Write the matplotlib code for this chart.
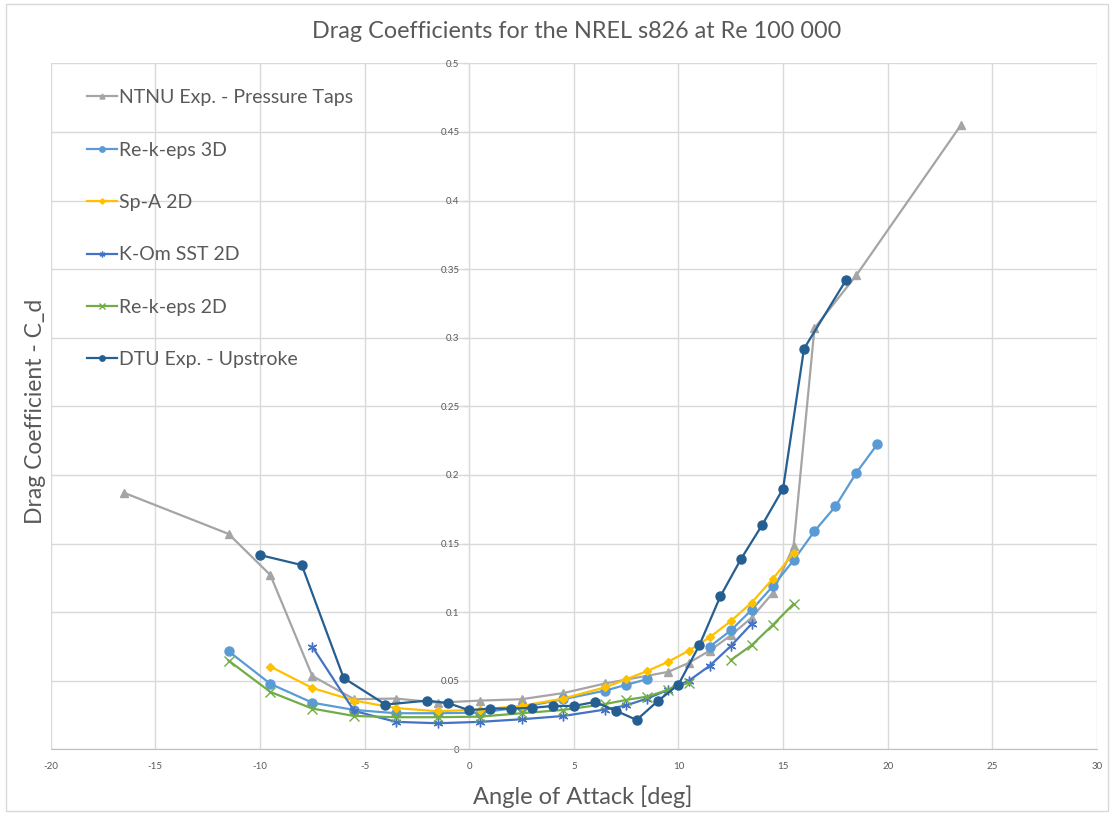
import numpy as np
import matplotlib
matplotlib.use("Agg")
import matplotlib.pyplot as plt
from matplotlib.ticker import FuncFormatter
from matplotlib.patches import Rectangle

plt.rcParams['font.family'] = ['Lato', 'DejaVu Sans']
plt.rcParams['axes.unicode_minus'] = False

TEXT = '#595959'
GRID = '#D9D9D9'

title = "Drag Coefficients for the NREL s826 at Re 100 000"
xlabel = "Angle of Attack [deg]"
ylabel = "Drag Coefficient - C_d"

# NTNU experiment, pressure taps
ntnu_aoa = [-16.5, -11.5, -9.5, -7.5, -5.5, -3.5, -1.5, 0.5, 2.5, 4.5, 6.5,
            9.5, 10.5, 11.5, 12.5, 13.5, 14.5, 15.5, 16.5, 18.5, 23.5]
ntnu_cd = [0.187, 0.157, 0.127, 0.0535, 0.0365, 0.037, 0.034, 0.0355, 0.0365,
           0.041, 0.048, 0.0564, 0.063, 0.072, 0.083, 0.096, 0.1138, 0.148,
           0.307, 0.3455, 0.455]

# Realizable k-epsilon, 3D
rke3d_aoa = [-11.5, -9.5, -7.5, -5.5, -3.5, -1.5, 0.5, 2.5, 4.5, 6.5, 7.5, 8.5,
             9.5, 10.5, 11.5, 12.5, 13.5, 14.5, 15.5, 16.5, 17.5, 18.5, 19.5]
rke3d_cd = [0.0715, 0.0477, 0.034, 0.0287, 0.0263, 0.0263, 0.0267, 0.0307,
            0.0365, 0.0428, 0.047, 0.0511, np.nan, np.nan, 0.0749, 0.0866,
            0.1017, 0.1187, 0.1377, 0.159, 0.177, 0.2015, 0.2223]

# Spalart-Allmaras, 2D
spa_aoa = [-9.5, -7.5, -5.5, -3.5, -1.5, 0.5, 2.5, 4.5, 6.5, 7.5, 8.5, 9.5,
           10.5, 11.5, 12.5, 13.5, 14.5, 15.5]
spa_cd = [0.0603, 0.0447, 0.0355, 0.0301, 0.0277, 0.029, 0.0316, 0.037, 0.0452,
          0.051, 0.057, 0.0637, 0.072, 0.0817, 0.0934, 0.107, 0.124, 0.143]

# k-omega SST, 2D
sst_aoa = [-7.5, -5.5, -3.5, -1.5, 0.5, 2.5, 4.5, 6.5, 7.5, 8.5, 9.5, 10.5,
           11.5, 12.5, 13.5]
sst_cd = [0.0749, 0.028, 0.020, 0.019, 0.020, 0.0219, 0.0243, 0.029, 0.032,
          0.037, 0.0433, 0.050, 0.061, 0.0752, 0.0915]

# Realizable k-epsilon, 2D
rke2d_aoa = [-11.5, -9.5, -7.5, -5.5, -3.5, -1.5, 0.5, 2.5, 4.5, 6.5, 7.5, 8.5,
             9.5, 10.5, 11.5, 12.5, 13.5, 14.5, 15.5]
rke2d_cd = [0.0647, 0.0418, 0.0297, 0.0243, 0.0234, 0.0234, 0.0238, 0.0263,
            0.0287, 0.033, 0.036, 0.0384, 0.0433, 0.0486, np.nan, 0.065,
            0.0759, 0.0905, 0.106]

# DTU experiment, upstroke
dtu_aoa = [-10, -8, -6, -4, -2, -1, 0, 1, 2, 3, 4, 5, 6, 7, 8, 9, 10, 11, 12,
           13, 14, 15, 16, 18]
dtu_cd = [0.1416, 0.1343, 0.052, 0.0326, 0.0355, 0.0336, 0.0285, 0.0297,
          0.0297, 0.0302, 0.0316, 0.0316, 0.0345, 0.0282, 0.0214, 0.035,
          0.0472, 0.0759, 0.1114, 0.139, 0.1635, 0.190, 0.292, 0.3418]

x_ticks = list(range(-20, 31, 5))
y_ticks = [round(0.05 * i, 2) for i in range(11)]

fig = plt.figure(figsize=(11.14, 8.15), dpi=100)
fig.patches.append(Rectangle((0.005, 0.005), 0.99, 0.99, transform=fig.transFigure,
                             fill=False, edgecolor=GRID, linewidth=1.0))

ax = fig.add_axes([0.0455, 0.0806, 0.9392, 0.8417])
ax.set_xlim(-20, 30)
ax.set_ylim(0, 0.5)
ax.set_xticks(x_ticks)
ax.set_yticks(y_ticks)
ax.xaxis.set_major_formatter(FuncFormatter(lambda v, p: "%g" % v))
ax.yaxis.set_major_formatter(FuncFormatter(lambda v, p: "%g" % round(v, 2)))
ax.grid(True, color=GRID, linewidth=1.0, zorder=0)
ax.set_axisbelow(True)

for s in ('top', 'right'):
    ax.spines[s].set_visible(False)
ax.spines['left'].set_position(('data', 0))
ax.spines['left'].set_color(GRID)
ax.spines['bottom'].set_color('#BFBFBF')
ax.tick_params(axis='x', length=0, pad=9, labelsize=7, labelcolor=TEXT)
ax.tick_params(axis='y', length=4, width=1, color=GRID, direction='out',
               pad=3, labelsize=7, labelcolor=TEXT)

series = [
    (ntnu_aoa, ntnu_cd, "NTNU Exp. - Pressure Taps", '#A5A5A5', '^', 6, None),
    (rke3d_aoa, rke3d_cd, "Re-k-eps 3D", '#5B9BD5', 'o', 6.5, None),
    (spa_aoa, spa_cd, "Sp-A 2D", '#FFC000', 'D', 4.5, None),
    (sst_aoa, sst_cd, "K-Om SST 2D", '#4472C4', (6, 2, 0), 7, 1.0),
    (rke2d_aoa, rke2d_cd, "Re-k-eps 2D", '#70AD47', 'x', 7, 1.0),
    (dtu_aoa, dtu_cd, "DTU Exp. - Upstroke", '#255E91', 'o', 6.5, None),
]

handles = []
for xs, ys, lab, col, mk, ms, mew in series:
    kw = dict(color=col, marker=mk, markersize=ms, linewidth=1.6, label=lab,
              markerfacecolor=col, markeredgecolor=col, zorder=3)
    if mew is not None:
        kw['markeredgewidth'] = mew
    h, = ax.plot(xs, ys, **kw)
    handles.append(h)

leg = ax.legend(handles=handles, loc='upper left', bbox_to_anchor=(0.071, 0.9),
                bbox_transform=fig.transFigure, frameon=False, fontsize=14,
                labelspacing=1.82, handlelength=1.55, handletextpad=0.1,
                markerscale=0.6, borderaxespad=0)
for t in leg.get_texts():
    t.set_color(TEXT)

fig.text(0.518, 0.961, title, ha='center', va='center', fontsize=16.8, color=TEXT)
fig.text(0.523, 0.022, xlabel, ha='center', va='center', fontsize=17, color=TEXT)
fig.text(0.032, 0.495, ylabel, ha='center', va='center', rotation=90,
         fontsize=16.5, color=TEXT)

fig.savefig("out.png", dpi=100)
